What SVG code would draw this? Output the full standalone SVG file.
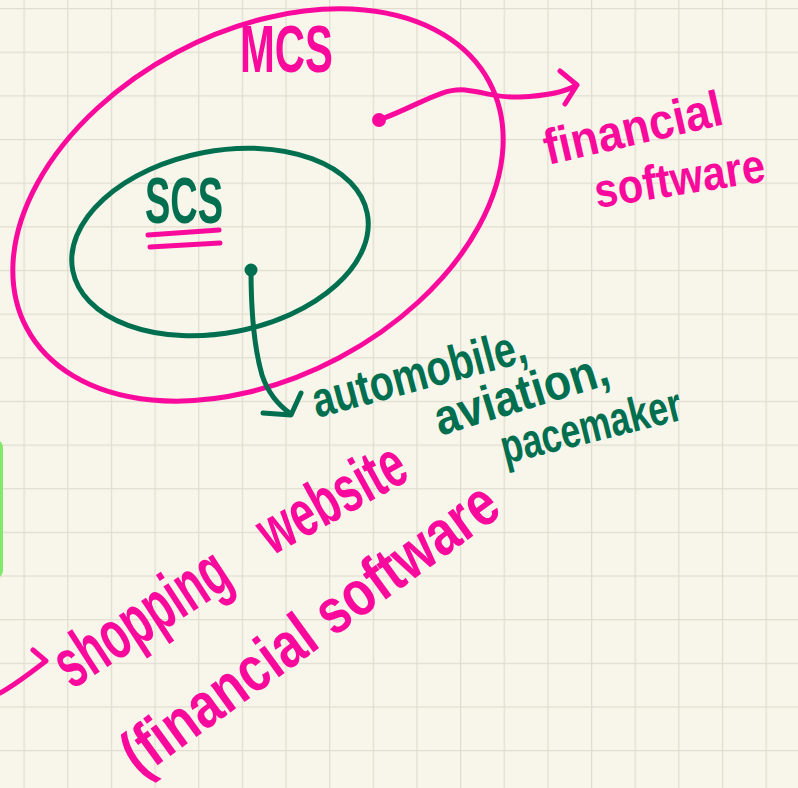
<svg xmlns="http://www.w3.org/2000/svg" width="798" height="788" viewBox="0 0 798 788">
<defs>
<pattern id="grid" patternUnits="userSpaceOnUse" x="23.5" y="8" width="43.65" height="43.65">
<path d="M0,0 V43.65 M0,0 H43.65" stroke="#e0ddd0" stroke-width="2.5" fill="none"/>
</pattern>
<style>
.pk{stroke:#fa0a9c;fill:none;stroke-width:5;stroke-linecap:round;stroke-linejoin:round}
.gr{stroke:#006f50;fill:none;stroke-width:5;stroke-linecap:round;stroke-linejoin:round}
.tp{fill:#fa0a9c;font-family:"Liberation Sans","DejaVu Sans",sans-serif;font-weight:bold}
.tg{fill:#006f50;font-family:"Liberation Sans","DejaVu Sans",sans-serif;font-weight:bold}
</style>
</defs>
<rect width="798" height="788" fill="#f8f6ea"/>
<rect width="798" height="788" fill="url(#grid)"/>
<rect x="-10" y="440" width="13" height="138" rx="8" fill="#80e86a"/>

<g id="mcs">
<ellipse class="pk" cx="258" cy="205" rx="262" ry="173" transform="rotate(-28 258 205)"/>
<text class="tp" x="240" y="72" font-size="66" textLength="93" lengthAdjust="spacingAndGlyphs">MCS</text>
</g>

<g id="scs">
<ellipse class="gr" cx="220" cy="242" rx="150" ry="91" transform="rotate(-11 220 242)"/>
<text class="tg" x="145" y="223" font-size="64" textLength="78" lengthAdjust="spacingAndGlyphs">SCS</text>
<path class="pk" d="M148,235 L219,230 M150,247 L220,243"/>
</g>

<g id="financial-software">
<text class="tp" transform="rotate(-13 548 165)" x="548" y="165" font-size="50" textLength="182" lengthAdjust="spacingAndGlyphs">financial</text>
<text class="tp" transform="rotate(-9 597 208)" x="597" y="208" font-size="48" textLength="172" lengthAdjust="spacingAndGlyphs">software</text>
</g>

<g id="scs-examples">
<text class="tg" transform="rotate(-15 317 418)" x="317" y="418" font-size="50" textLength="220" lengthAdjust="spacingAndGlyphs">automobile,</text>
<text class="tg" transform="rotate(-17 440 436)" x="440" y="436" font-size="50" textLength="180" lengthAdjust="spacingAndGlyphs">aviation,</text>
<text class="tg" transform="rotate(-14 505 464)" x="505" y="464" font-size="48" textLength="185" lengthAdjust="spacingAndGlyphs">pacemaker</text>
</g>

<g id="mcs-examples">
<text class="tp" transform="rotate(-33 72 690)" x="72" y="690" font-size="70" textLength="195" lengthAdjust="spacingAndGlyphs">shopping</text>
<text class="tp" transform="rotate(-29 272 556)" x="272" y="556" font-size="66" textLength="160" lengthAdjust="spacingAndGlyphs">website</text>
<text class="tp" transform="rotate(-36 140 778)" x="140" y="778" font-size="64" textLength="450" lengthAdjust="spacingAndGlyphs">(financial software</text>
</g>

<g id="connectors">
<circle cx="379" cy="120" r="7" fill="#fa0a9c"/>
<path class="pk" d="M379,120 C420,105 440,88 465,90 C490,93 495,98 520,97 C545,96 565,92 577,85 M560,71 L577,85 L565,104"/>
<circle cx="251" cy="270" r="6.5" fill="#006f50"/>
<path class="gr" d="M251,270 C251,300 252,340 262,375 C268,393 278,405 291,414 M263,413 L291,415 L301,393"/>
<path class="pk" d="M0,693 C15,685 30,673 46,661 M33,650 L46,661 L30,673"/>
</g>
</svg>
